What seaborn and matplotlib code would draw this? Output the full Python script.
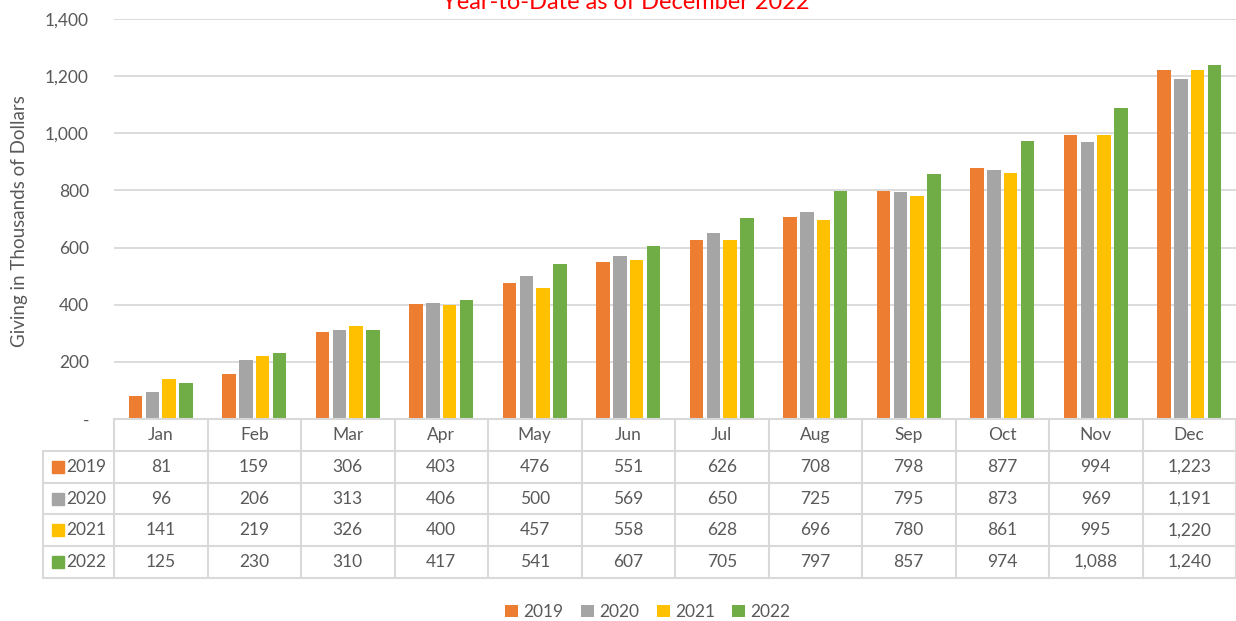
import numpy as np
import pandas as pd
import seaborn as sns
import matplotlib
matplotlib.use("Agg")
import matplotlib.pyplot as plt
from matplotlib.ticker import FuncFormatter

# ---------------- data ----------------
months = ["Jan", "Feb", "Mar", "Apr", "May", "Jun", "Jul", "Aug", "Sep", "Oct", "Nov", "Dec"]
years = ["2019", "2020", "2021", "2022"]
v2019 = [81, 159, 306, 403, 476, 551, 626, 708, 798, 877, 994, 1223]
v2020 = [96, 206, 313, 406, 500, 569, 650, 725, 795, 873, 969, 1191]
v2021 = [141, 219, 326, 400, 457, 558, 628, 696, 780, 861, 995, 1220]
v2022 = [125, 230, 310, 417, 541, 607, 705, 797, 857, 974, 1088, 1240]
colors = ["#ED7D31", "#A5A5A5", "#FFC000", "#70AD47"]
title = "Year-to-Date as of December 2022"
ylabel = "Giving in Thousands of Dollars"

series = [v2019, v2020, v2021, v2022]
df = pd.DataFrame({
    "Month": np.tile(months, len(years)),
    "Year": np.repeat(years, len(months)),
    "Value": np.concatenate(series),
})

# ---------------- style ----------------
sns.set_theme(style="white")
plt.rcParams["font.family"] = ["Lato", "DejaVu Sans"]
TXT = "#595959"
GRID = "#D9D9D9"

W, H = 1236, 621
fig = plt.figure(figsize=(W / 100, H / 100), dpi=100)
AX_L, AX_R, AX_T, AX_B = 114, 1236, 19, 419
ax = fig.add_axes([AX_L / W, 1 - AX_B / H, (AX_R - AX_L) / W, (AX_B - AX_T) / H])

sns.barplot(data=df, x="Month", y="Value", hue="Year", palette=colors,
            width=0.72, gap=0.2, saturation=1, errorbar=None, ax=ax,
            linewidth=0)

ax.set_xlim(-0.5, len(months) - 0.5)
ax.set_ylim(0, 1400)
ax.set_yticks(range(0, 1401, 200))
ax.yaxis.set_major_formatter(FuncFormatter(lambda v, p: "-" if v == 0 else f"{int(v):,}"))
ax.grid(axis="y", color=GRID, linewidth=1.3)
ax.grid(axis="x", visible=False)
ax.set_axisbelow(True)
for s in ax.spines.values():
    s.set_visible(False)
ax.tick_params(axis="x", bottom=False, labelbottom=False)
ax.tick_params(axis="y", length=0, pad=18, labelsize=12.5, labelcolor=TXT)
ax.set_xlabel("")
ax.set_ylabel("")

fig.text(20 / W, 1 - 221 / H, ylabel, rotation=90, ha="center", va="center",
         fontsize=13.5, color=TXT)
fig.text(626 / W, 1 - 9 / H, title, ha="center", va="baseline",
         fontsize=17, color="#FF0000")

# legend at the bottom
sns.move_legend(ax, "center", bbox_to_anchor=((648 - AX_L) / (AX_R - AX_L), (AX_B - 612) / (AX_B - AX_T)),
                ncol=4, frameon=False, title=None, fontsize=12.5,
                handlelength=0.75, handleheight=0.75, handletextpad=0.3, columnspacing=1.0)
for t in ax.get_legend().get_texts():
    t.set_color(TXT)

# ---------------- data table ----------------
TB = 578
tax = fig.add_axes([AX_L / W, 1 - TB / H, (AX_R - AX_L) / W, (TB - AX_B) / H])
n = len(months)
nrows = len(years) + 1
tax.set_xlim(-0.5, n - 0.5)
tax.set_ylim(nrows, 0)
tax.axis("off")
colw = (AX_R - AX_L) / n


def px2x(px):
    return -0.5 + (px - AX_L) / colw


xleft = px2x(43)
lw = 1.5
# horizontal lines
tax.plot([-0.5, n - 0.5], [0, 0], color=GRID, lw=lw, clip_on=False)
for r in range(1, nrows + 1):
    tax.plot([xleft, n - 0.5], [r, r], color=GRID, lw=lw, clip_on=False)
# vertical lines
for i in range(n + 1):
    tax.plot([i - 0.5, i - 0.5], [0, nrows], color=GRID, lw=lw, clip_on=False)
tax.plot([xleft, xleft], [1, nrows], color=GRID, lw=lw, clip_on=False)

for i, m in enumerate(months):
    tax.text(i, 0.5, m, ha="center", va="center", fontsize=12.5, color=TXT)
for r, (yr, vals, c) in enumerate(zip(years, series, colors)):
    yy = r + 1.5
    tax.plot([px2x(57.5)], [yy], marker="s", markersize=8.5, color=c,
             linestyle="none", clip_on=False)
    tax.text(px2x(66), yy, yr, ha="left", va="center", fontsize=12.5, color=TXT)
    for i, v in enumerate(vals):
        tax.text(i, yy, f"{v:,}", ha="center", va="center", fontsize=12.5, color=TXT)

fig.savefig("out.png", dpi=100)
